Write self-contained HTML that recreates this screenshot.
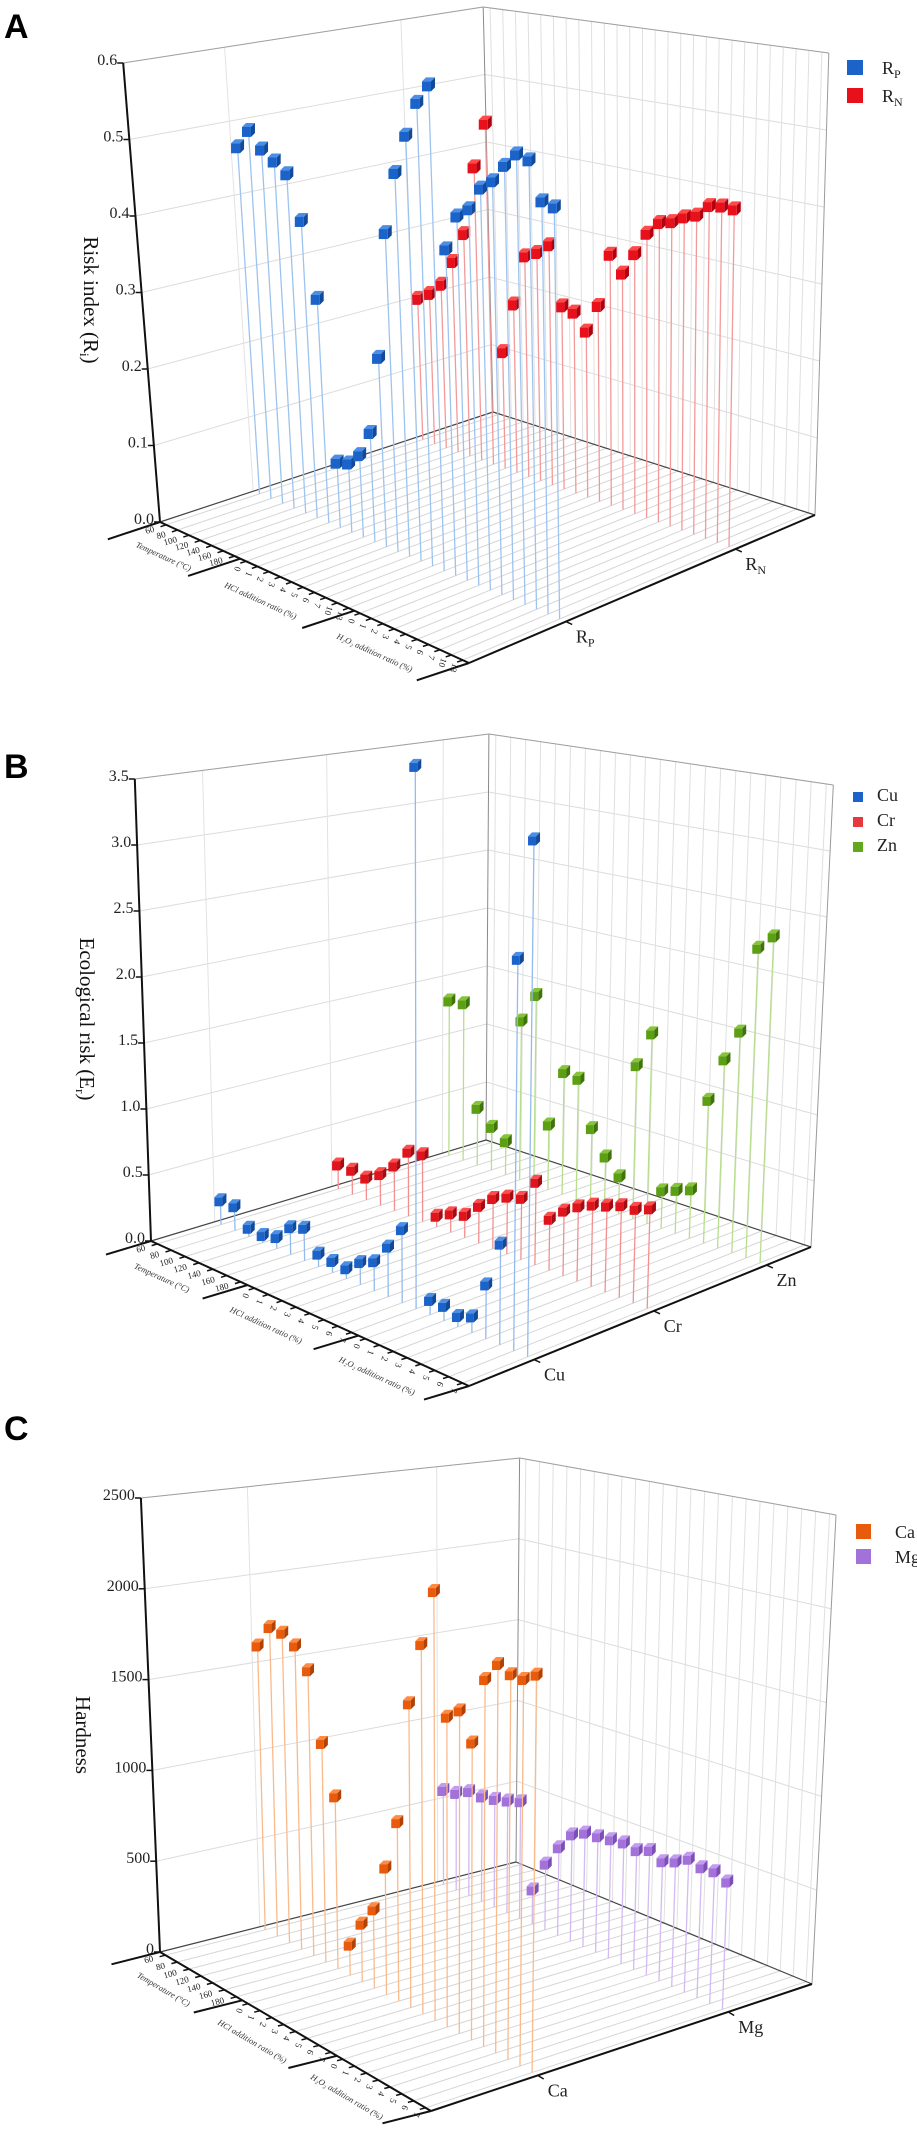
<!DOCTYPE html>
<html><head><meta charset="utf-8"><style>
html,body{margin:0;padding:0;background:#fff;}
svg{display:block;font-family:"Liberation Serif",serif;}
.pl{font-family:"Liberation Sans",sans-serif;font-weight:bold;font-size:34px;}
</style></head><body>
<svg id="fig" width="917" height="2143" viewBox="0 0 917 2143" xmlns="http://www.w3.org/2000/svg">
<text class="pl" x="4" y="38">A</text>
<text class="pl" x="4" y="778">B</text>
<text class="pl" x="4" y="1440">C</text>
</svg>
<script>
// ---------- DATA ----------
const tempLabels = ["60","80","100","120","140","160","180"];
const aHclLabels = ["0","1","2","3","4","5","6","7","10","13"];
const aH2o2Labels = ["0","1","2","3","4","5","6","7","10","13"];
const bcHclLabels = ["0","1","2","3","4","5","6","7"];
const bcH2o2Labels = ["0","1","2","3","4","5","6","7"];
const aTicks = ["0.0","0.1","0.2","0.3","0.4","0.5","0.6"];
const bTicks = ["0.0","0.5","1.0","1.5","2.0","2.5","3.0","3.5"];
const cTicks = ["0","500","1000","1500","2000","2500"];
const aRP = [0.467,0.494,0.474,0.463,0.451,0.394,0.296,0.085,0.090,0.107,0.142,0.246,0.414,0.497,0.550,0.597,0.624,0.418,0.465,0.479,0.510,0.524,0.548,0.567,0.564,0.517,0.514];
const aRN = [0.201,0.213,0.231,0.268,0.312,0.410,0.475,0.161,0.232,0.303,0.312,0.327,0.248,0.244,0.223,0.262,0.335,0.314,0.344,0.375,0.393,0.398,0.408,0.414,0.430,0.433,0.433];
const bCu = [0.18,0.18,0.06,0.05,0.08,0.20,0.24,0.09,0.08,0.07,0.16,0.21,0.36,0.53,3.94,0.10,0.10,0.07,0.11,0.38,0.71,2.76,3.63];
const bCr = [0.19,0.19,0.17,0.24,0.35,0.50,0.52,0.08,0.14,0.17,0.28,0.38,0.43,0.46,0.62,0.38,0.48,0.55,0.60,0.63,0.67,0.68,0.72];
const bZn = [1.30,1.31,0.47,0.35,0.27,1.30,1.54,0.52,0.98,0.96,0.60,0.41,0.29,1.20,1.48,0.29,0.33,0.37,1.09,1.43,1.67,2.33,2.44];
const cCa = [1606,1739,1735,1692,1582,1208,944,162,311,423,682,958,1625,1968,2275,1635,1695,1553,1911,2014,1986,1986,2033];
const cMg = [561,574,615,613,628,648,673,194,373,496,598,636,644,655,665,650,678,644,670,711,692,697,669];

const NS="http://www.w3.org/2000/svg";
const svg=document.getElementById('fig');
function mk(tag,attrs,parent){const e=document.createElementNS(NS,tag);for(const k in attrs)e.setAttribute(k,attrs[k]);(parent||svg).appendChild(e);return e;}

const panels=[
 {id:'a',FL:[160,522],FB:[469,663],BL:[493,412],R:[815,515],S:[765,813,675,770],la:-0.107,lb:0.000168,
  max:0.6,ticks:aTicks,step:0.1,groups:[tempLabels,aHclLabels,aH2o2Labels],sepLen:55,cube:13,
  title:['Risk index (R','i',')'],tx:84,ty:300,
  series:[{name:'RN',sub:'N',v:0.77,data:aRN,stem:'#f29a9a',c:['#e8111b','#ff4a4a','#b00010']},
          {name:'RP',sub:'P',v:0.28,data:aRP,stem:'#9ec3ee',c:['#1b63c9','#4a8ee6','#114a9a']}],
  legend:{x:847,y:60,w:16,h:15,dy:28,fs:18,tx:882}},
 {id:'b',FL:[151,1241],FB:[469,1386],BL:[486,1140],R:[811,1247],S:[132,145,116,132],la:-0.054,lb:0.000126,
  max:3.5,ticks:bTicks,step:0.5,groups:[tempLabels,bcHclLabels,bcH2o2Labels],sepLen:47,cube:12,
  title:['Ecological risk (E','r',')'],tx:80,ty:1019,
  series:[{name:'Zn',v:0.87,data:bZn,stem:'#b9dd8e',c:['#5c9e14','#86c43a','#3f7409']},
          {name:'Cr',v:0.54,data:bCr,stem:'#f29090',c:['#e0141c','#ff4c4c','#a50c12']},
          {name:'Cu',v:0.19,data:bCu,stem:'#93bbec',c:['#1b63c9','#4a8ee6','#114a9a']}],
  legend:{x:853,y:792,w:10,h:10,dy:25,fs:18,tx:877,order:['Cu','Cr','Zn'],cols:{Cu:'#1b63c9',Cr:'#e8383f',Zn:'#62a81c'}}},
 {id:'c',FL:[160,1952],FB:[431,2111],BL:[516,1862],R:[812,1984],S:[0.1816,0.1987,0.1616,0.1876],la:-0.065,lb:0.000143,
  max:2500,ticks:cTicks,step:500,groups:[tempLabels,bcHclLabels,bcH2o2Labels],sepLen:50,cube:12,
  title:['Hardness'],tx:76,ty:1735,
  series:[{name:'Mg',v:0.78,data:cMg,stem:'#d3baf0',c:['#a271da','#c39bf0','#7d4fb5']},
          {name:'Ca',v:0.28,data:cCa,stem:'#f8bb8e',c:['#e85a0c','#ff8a42','#b04205']}],
  legend:{x:856,y:1524,w:15,h:15,dy:25,fs:18,tx:895}}
];

function P(g,u,v,val){
  const w=[(1-u)*(1-v),u*(1-v),(1-u)*v,u*v];
  const bx=w[0]*g.FL[0]+w[1]*g.FB[0]+w[2]*g.BL[0]+w[3]*g.R[0];
  const by=w[0]*g.FL[1]+w[1]*g.FB[1]+w[2]*g.BL[1]+w[3]*g.R[1];
  const s=w[0]*g.S[0]+w[1]*g.S[1]+w[2]*g.S[2]+w[3]*g.S[3];
  const h=val*s; const lean=g.la+g.lb*bx;
  return [bx+lean*h,by-h];
}
function line(p,q,stroke,sw,parent){return mk('line',{x1:p[0].toFixed(1),y1:p[1].toFixed(1),x2:q[0].toFixed(1),y2:q[1].toFixed(1),stroke:stroke,'stroke-width':sw},parent);}

panels.forEach(g=>{
  const G=mk('g',{});
  
  
  const n=g.groups.reduce((a,b)=>a+b.length,0);
  const U=i=>0.02+i*0.96/(n-1);
  const nt=g.ticks.length;
  const grid=mk('g',{},G);
  
  
  // horizontal grid on walls
  for(let t=1;t<nt;t++){const val=t*g.step;
    line(P(g,0,0,val),P(g,0,1,val),'#dcdcdc',1,grid);
    line(P(g,0,1,val),P(g,1,1,val),'#dcdcdc',1,grid);}
  // left wall vertical lines at series v
  g.series.forEach(s=>line(P(g,0,s.v,0),P(g,0,s.v,g.max),'#e2e2e2',1,grid));
  // back wall verticals and floor lines per category
  for(let i=0;i<n;i++){const u=U(i);
    line(P(g,u,1,0),P(g,u,1,g.max),'#e0e0e0',1,grid);
    line(P(g,u,0,0),P(g,u,1,0),'#d6d6d6',1,grid);}
  // frame edges
  line(P(g,0,1,0),P(g,0,1,g.max),'#8a8a8a',1,grid);
  line(P(g,1,1,0),P(g,1,1,g.max),'#9a9a9a',1,grid);
  line(P(g,0,0,g.max),P(g,0,1,g.max),'#a0a0a0',1,grid);
  line(P(g,0,1,g.max),P(g,1,1,g.max),'#a0a0a0',1,grid);
  line(P(g,0,0,0),P(g,0,1,0),'#444',1.2,grid);
  line(P(g,0,1,0),P(g,1,1,0),'#444',1.2,grid);
  // series
  g.series.forEach(s=>{
    const sg=mk('g',{},G);
    
    
    s.data.forEach((val,i)=>{const u=U(i);
      const b=P(g,u,s.v,0), t=P(g,u,s.v,val);
      const st=line(b,t,s.stem,1.3,sg);
      
      
    });
    s.data.forEach((val,i)=>{const u=U(i);
      const t=P(g,u,s.v,val); const c=g.cube, x=t[0]-c/2, y=t[1]-c/2+2, d=4;
      const cg=mk('g',{},sg);
      
      
      mk('polygon',{points:`${x},${y} ${x+d},${y-d} ${x+c},${y-d} ${x+c-d},${y}`,fill:s.c[1]},cg);
      mk('polygon',{points:`${x+c-d},${y} ${x+c},${y-d} ${x+c},${y+c-d-3} ${x+c-d},${y+c-3}`,fill:s.c[2]},cg);
      mk('rect',{x:x,y:y,width:c-d,height:c-3,fill:s.c[0]},cg);
    });
  });
  // vertical axis
  const ax=mk('g',{},G);
  
  
  line(P(g,0,0,0),P(g,0,0,g.max),'#111',2,ax);
  g.ticks.forEach((lab,t)=>{const p=P(g,0,0,t*g.step);
    line([p[0]-6,p[1]],p,'#111',1.5,ax);
    const tx=mk('text',{x:(p[0]-6).toFixed(1),y:(p[1]+2).toFixed(1),'text-anchor':'end','font-size':16,fill:'#222'},ax);
    tx.textContent=lab;
    
    });
  const tt=mk('text',{x:g.tx,y:g.ty,'text-anchor':'middle','font-size':21,fill:'#111',transform:`rotate(90 ${g.tx} ${g.ty})`},G);
  
  
  tt.appendChild(document.createTextNode(g.title[0]));
  if(g.title[1]){const sb=mk('tspan',{'font-size':13,dy:4},tt);sb.textContent=g.title[1];const r=mk('tspan',{dy:-4},tt);r.textContent=g.title[2];}
  // category axis
  const ca=mk('g',{},G);
  
  
  const FL=g.FL, FB=g.FB;
  line(FL,FB,'#111',2,ca);
  let ox=FL[0]-g.BL[0], oy=FL[1]-g.BL[1]; const ol=Math.hypot(ox,oy); ox/=ol; oy/=ol;
  const ang=Math.atan2(FB[1]-FL[1],FB[0]-FL[0])*180/Math.PI;
  let idx=0; const titles=['Temperature (°C)','HCl addition ratio (%)','H₂O₂ addition ratio (%)'];
  const seps=[0];
  g.groups.forEach((grp,gi)=>{
    const start=idx;
    grp.forEach((lab,k)=>{const p=P(g,U(idx),0,0);
      line(p,[p[0]+ox*6,p[1]+oy*6],'#111',1.5,ca);
      const lx=p[0]+ox*12, ly=p[1]+oy*12+3;
      const rot = gi===0 ? -15 : 110;
      const tx=mk('text',{x:lx.toFixed(1),y:ly.toFixed(1),'text-anchor':gi===0?'end':'middle','font-size':9,fill:'#222',transform:`rotate(${rot} ${lx.toFixed(1)} ${ly.toFixed(1)})`},ca);
      tx.textContent=lab;
      
      
      idx++;});
    seps.push(idx<n?(U(idx-1)+U(idx))/2:1);
    const um=(U(start)+U(idx-1))/2; const p=P(g,um,0,0);
    const gx=p[0]+ox*40, gy=p[1]+oy*40+6;
    const tt2=mk('text',{x:gx.toFixed(1),y:gy.toFixed(1),'text-anchor':'middle','font-size':8.5,'font-style':'italic',fill:'#333',transform:`rotate(${ang.toFixed(1)} ${gx.toFixed(1)} ${gy.toFixed(1)})`},ca);
    tt2.textContent=titles[gi];
    
    
  });
  seps.forEach(u=>{const p=P(g,u,0,0);line(p,[p[0]+ox*g.sepLen,p[1]+oy*g.sepLen],'#111',2,ca);});
  // series axis
  const sa=mk('g',{},G);
  
  
  line(FB,g.R,'#111',2,sa);
  let px=FB[0]-FL[0], py=FB[1]-FL[1]; const pl=Math.hypot(px,py); px/=pl; py/=pl;
  g.series.forEach(s=>{const p=P(g,1,s.v,0);
    line(p,[p[0]+px*7,p[1]+py*7],'#111',1.5,sa);
    const tx=mk('text',{x:(p[0]+10).toFixed(1),y:(p[1]+21).toFixed(1),'font-size':18,fill:'#222'},sa);
    
    
    if(s.sub){tx.appendChild(document.createTextNode('R'));const sb=mk('tspan',{'font-size':12,dy:4},tx);sb.textContent=s.sub;}
    else tx.textContent=s.name;});
  // legend
  const L=g.legend; const lg=mk('g',{},G);
  
  
  const order=L.order?L.order.map(nm=>g.series.find(s=>s.name===nm)):g.series.slice().reverse();
  order.forEach((s,k)=>{const y=L.y+k*L.dy;
    const e=mk('g',{},lg);
    
    
    mk('rect',{x:L.x,y:y,width:L.w,height:L.h,fill:L.cols?L.cols[s.name]:s.c[0]},e);
    const tx=mk('text',{x:L.tx,y:y+L.h-1,'font-size':L.fs,fill:'#222'},e);
    if(s.sub){tx.appendChild(document.createTextNode('R'));const sb=mk('tspan',{'font-size':12,dy:4},tx);sb.textContent=s.sub;}
    else tx.textContent=s.name;});
});
</script>
</body></html>
